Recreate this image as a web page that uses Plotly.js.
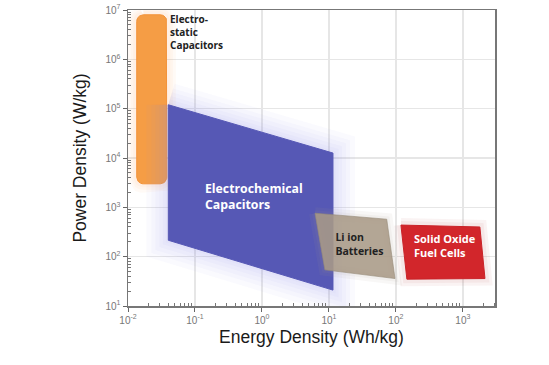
<!DOCTYPE html>
<html><head><meta charset="utf-8">
<script src="https://cdn.plot.ly/plotly-3.0.1.min.js"></script>
<style>html,body{margin:0;padding:0;background:#fff}#c{width:549px;height:365px}</style>
</head><body><div id="c"></div>
<script>
// Regions (Ragone plot) – polygon vertices in (Wh/kg, W/kg)
const esName = "Electro-<br>static<br>Capacitors";
const esX = [0.0135, 0.038];          // x extent
const esY = [3000, 8000000];          // y extent
const ecName = "Electrochemical<br>Capacitors";
const ecX = [0.04, 11.5, 11.5, 0.04];
const ecY = [120000, 12600, 21, 215];
const liName = "Li ion<br>Batteries";
const liX = [6.2, 73, 97, 8.7];
const liY = [760, 575, 36, 54];
const sofcName = "Solid Oxide<br>Fuel Cells";
const sofcX = [119, 1795, 2140, 146];
const sofcY = [437, 400, 36, 35];
// label anchor points
const labelX = [0.0424, 0.141, 12.5, 186];
const labelY = [3400000, 1550, 170, 155];
// axis ticks
const xTickVals = [0.01, 0.1, 1, 10, 100, 1000];
const xTickText = ['10<sup>-2</sup>','10<sup>-1</sup>','10<sup>0</sup>','10<sup>1</sup>','10<sup>2</sup>','10<sup>3</sup>'];
const yTickVals = [10, 100, 1000, 1e4, 1e5, 1e6, 1e7];
const yTickText = ['10<sup>1</sup>','10<sup>2</sup>','10<sup>3</sup>','10<sup>4</sup>','10<sup>5</sup>','10<sup>6</sup>','10<sup>7</sup>'];

function closed(a){return a.concat([a[0]]);}
function roundedRect(xs, ys){
  const lx0=Math.log10(xs[0]), lx1=Math.log10(xs[1]), ly0=Math.log10(ys[0]), ly1=Math.log10(ys[1]);
  const rx=(lx1-lx0)*0.22, ry=rx*67/49.3;
  const X=[],Y=[];
  const corners=[[lx0+rx,ly1-ry,Math.PI/2,Math.PI],[lx0+rx,ly0+ry,Math.PI,1.5*Math.PI],[lx1-rx,ly0+ry,1.5*Math.PI,2*Math.PI],[lx1-rx,ly1-ry,0,Math.PI/2]];
  corners.forEach(c=>{for(let i=0;i<=8;i++){const t=c[2]+(c[3]-c[2])*i/8;X.push(Math.pow(10,c[0]+rx*Math.cos(t)));Y.push(Math.pow(10,c[1]+ry*Math.sin(t)));}});
  X.push(X[0]);Y.push(Y[0]);
  return [X,Y];
}
const es = roundedRect(esX, esY);
function minorVals(vals){const out=[];vals.forEach(v=>{for(let k=2;k<=9;k++)out.push(v*k);});return out;}

function glows(x,y,rgb,widths,op){return widths.map(w=>({x:x,y:y,mode:'lines',line:{color:'rgba('+rgb+','+op+')',width:w},hoverinfo:'skip',showlegend:false}));}

const traces = [].concat(
  glows(es[0],es[1],'247,170,100',[18,12,7],0.06),
  [{x:es[0],y:es[1],mode:'lines',fill:'toself',fillcolor:'#f59d45',line:{color:'#f39339',width:1},hoverinfo:'skip',showlegend:false}],
  glows(closed(ecX),closed(ecY),'140,130,235',[44,34,26,18,11,5],0.045),
  [{x:closed(ecX),y:closed(ecY),mode:'lines',fill:'toself',fillcolor:'#5658b5',line:{color:'#5658b5',width:1},hoverinfo:'skip',showlegend:false}],
  glows(closed(liX),closed(liY),'160,150,140',[12,6],0.08),
  [{x:closed(liX),y:closed(liY),mode:'lines',fill:'toself',fillcolor:'rgba(168,154,134,0.88)',line:{color:'rgba(150,138,120,0.6)',width:1},hoverinfo:'skip',showlegend:false}],
  glows(closed(sofcX),closed(sofcY),'190,90,90',[14,8],0.07),
  [{x:closed(sofcX),y:closed(sofcY),mode:'lines',fill:'toself',fillcolor:'#d2262b',line:{color:'#c92228',width:1},hoverinfo:'skip',showlegend:false},
  {x:[labelX[0]],y:[labelY[0]],mode:'text',text:[esName],textposition:'middle right',textfont:{family:'Open Sans',size:10,color:'#222',weight:'bold'},hoverinfo:'skip',showlegend:false},
  {x:[labelX[1]],y:[labelY[1]],mode:'text',text:[ecName],textposition:'middle right',textfont:{family:'Open Sans',size:12.3,color:'#fff',weight:'bold'},hoverinfo:'skip',showlegend:false},
  {x:[labelX[2]],y:[labelY[2]],mode:'text',text:[liName],textposition:'middle right',textfont:{family:'Open Sans',size:10.5,color:'#222',weight:'bold'},hoverinfo:'skip',showlegend:false},
  {x:[labelX[3]],y:[labelY[3]],mode:'text',text:[sofcName],textposition:'middle right',textfont:{family:'Open Sans',size:11,color:'#fff',weight:'bold'},hoverinfo:'skip',showlegend:false}]
);

const axisCommon = {
  type:'log', tickmode:'array',
  showgrid:true, gridcolor:'#e6e6e6', gridwidth:1.5,
  showline:true, linecolor:'#777', linewidth:1.5, mirror:true,
  ticks:'outside', ticklen:4, tickcolor:'#666',
  tickfont:{family:'Liberation Sans', size:10, color:'#777'},
  zeroline:false
};

const layout = {
  width:549, height:365,
  margin:{l:128, r:54, t:10, b:59},
  paper_bgcolor:'#fff', plot_bgcolor:'#fff',
  showlegend:false,
  xaxis:Object.assign({}, axisCommon, {range:[-2,3.48], tickvals:xTickVals, ticktext:xTickText,
    minor:{tickmode:'array', tickvals:minorVals(xTickVals), ticks:'inside', ticklen:3, tickcolor:'#777', showgrid:false},
    title:{text:'Energy Density (Wh/kg)', font:{family:'Liberation Sans', size:17.5, color:'#1a1a1a'}, standoff:6}}),
  yaxis:Object.assign({}, axisCommon, {range:[1,7], tickvals:yTickVals, ticktext:yTickText,
    minor:{tickmode:'array', tickvals:minorVals(yTickVals), ticks:'inside', ticklen:3, tickcolor:'#777', showgrid:false},
    title:{text:'Power Density (W/kg)', font:{family:'Liberation Sans', size:17.5, color:'#1a1a1a'}, standoff:14}})
};

Plotly.newPlot('c', traces, layout, {staticPlot:true, displayModeBar:false});
</script></body></html>
